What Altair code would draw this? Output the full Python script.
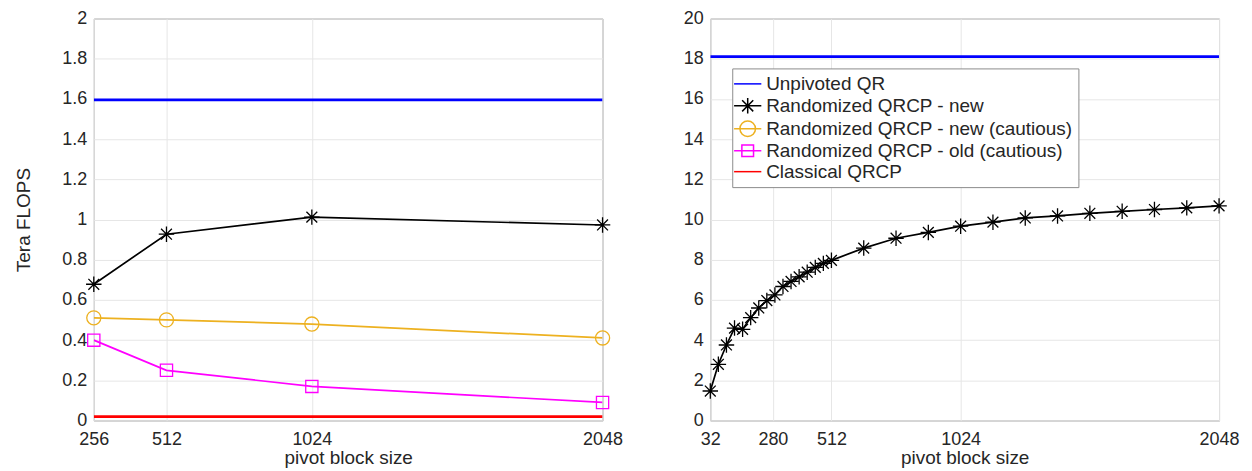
import altair as alt
import pandas as pd

# ---------------- data ----------------
series_names = [
    "Unpivoted QR",
    "Randomized QRCP - new",
    "Randomized QRCP - new (cautious)",
    "Randomized QRCP -  old (cautious)",
    "Classical QRCP",
]
series_colors = ["#0000ff", "#000000", "#EDB120", "#ff00ff", "#ff0000"]

# left panel
left_x = [256, 512, 1024, 2048]
left_unpivoted = [1.595, 1.595, 1.595, 1.595]
left_new = [0.678, 0.927, 1.012, 0.973]
left_new_cautious = [0.511, 0.501, 0.480, 0.411]
left_old_cautious = [0.400, 0.250, 0.170, 0.090]
left_classical = [0.020, 0.020, 0.020, 0.020]

# right panel
right_x = [32, 64, 96, 128, 160, 192, 224, 256, 288, 320, 352, 384, 416, 448,
           480, 512, 640, 768, 896, 1024, 1152, 1280, 1408, 1536, 1664, 1792,
           1920, 2048]
right_new = [1.47, 2.80, 3.76, 4.60, 4.54, 5.12, 5.60, 5.97, 6.25, 6.67, 6.92,
             7.15, 7.38, 7.62, 7.82, 7.97, 8.58, 9.07, 9.36, 9.67, 9.87, 10.08,
             10.18, 10.31, 10.41, 10.50, 10.58, 10.68]
right_unpivoted_x = [32, 2048]
right_unpivoted = [18.1, 18.1]

left_xticks = [256, 512, 1024, 2048]
right_xticks = [32, 280, 512, 1024, 2048]
left_yticks = [0, 0.2, 0.4, 0.6, 0.8, 1, 1.2, 1.4, 1.6, 1.8, 2]
right_yticks = [0, 2, 4, 6, 8, 10, 12, 14, 16, 18, 20]


def long(xs, ys, name):
    return pd.DataFrame({"x": xs, "y": ys, "series": [name] * len(xs)})


left_df = pd.concat([
    long(left_x, left_unpivoted, series_names[0]),
    long(left_x, left_new, series_names[1]),
    long(left_x, left_new_cautious, series_names[2]),
    long(left_x, left_old_cautious, series_names[3]),
    long(left_x, left_classical, series_names[4]),
], ignore_index=True)

right_df = pd.concat([
    long(right_unpivoted_x, right_unpivoted, series_names[0]),
    long(right_x, right_new, series_names[1]),
], ignore_index=True)

legend_df = pd.DataFrame({"series": series_names})

# ---------------- style ----------------
FONT = "Liberation Sans"
TXT = "#262626"
W, H = 510, 403

ASTERISK = "M-1,0H1M0,-1V1M-0.7,-0.7L0.7,0.7M-0.7,0.7L0.7,-0.7"
legend_shapes = [
    "M-1.4,0H1.4",
    "M-1.4,0H1.4M0,-0.8V0.8M-0.57,-0.57L0.57,0.57M-0.57,0.57L0.57,-0.57",
    "M-1.4,0H1.4M-0.8,0A0.8,0.8 0 1,1 0.8,0A0.8,0.8 0 1,1 -0.8,0Z",
    "M-1.4,0H1.4M-0.6,-0.6H0.6V0.6H-0.6Z",
    "M-1.4,0H1.4",
]


def xenc(domain, ticks):
    return alt.X("x:Q", scale=alt.Scale(domain=domain, nice=False, zero=False),
                 axis=alt.Axis(title="pivot block size", values=ticks, format="d",
                               grid=True, ticks=False, tickSize=0, domain=False,
                               labelFlush=False, labelPadding=10, titlePadding=0))


def yenc(domain, ticks, title):
    ax = dict(values=ticks, format="~g", grid=True, ticks=False, tickSize=0,
              domain=False, labelPadding=7)
    if title:
        ax["title"] = title
        ax["titlePadding"] = 28
    else:
        ax["title"] = None
    return alt.Y("y:Q", scale=alt.Scale(domain=domain, nice=False, zero=False),
                 axis=alt.Axis(**ax))


def panel(df, xdom, xt, ydom, yt, ytitle, specs, legend=False):
    X = xenc(xdom, xt)
    Y = yenc(ydom, yt, ytitle)
    layers = []
    for name, color, lw, marker in specs:
        base = alt.Chart(df).transform_filter(alt.datum.series == name)
        layers.append(base.mark_line(color=color, strokeWidth=lw, clip=True)
                      .encode(x=X, y=Y))
        if marker == "asterisk":
            layers.append(base.mark_point(shape=ASTERISK, size=240, filled=False,
                                          color=color, strokeWidth=1.3, opacity=1)
                          .encode(x=X, y=Y))
        elif marker == "circle":
            layers.append(base.mark_point(shape="circle", size=200, filled=False,
                                          color=color, strokeWidth=1.3, opacity=1)
                          .encode(x=X, y=Y))
        elif marker == "square":
            layers.append(base.mark_point(shape="square", size=150, filled=False,
                                          color=color, strokeWidth=1.3, opacity=1)
                          .encode(x=X, y=Y))
    if legend:
        lg = alt.Legend(orient="none", legendX=22, legendY=50, title=None,
                        labelFont=FONT, labelFontSize=19, labelColor=TXT,
                        labelLimit=0, padding=5, strokeColor="#8c8c8c",
                        fillColor="white", symbolSize=380, symbolStrokeWidth=1.5,
                        rowPadding=0, labelOffset=8)
        layers.append(
            alt.Chart(legend_df).transform_filter("false")
            .mark_point(filled=False, opacity=1)
            .encode(
                color=alt.Color("series:N", sort=series_names,
                                scale=alt.Scale(domain=series_names, range=series_colors),
                                legend=lg),
                shape=alt.Shape("series:N", sort=series_names,
                                scale=alt.Scale(domain=series_names, range=legend_shapes),
                                legend=lg),
            )
        )
    return alt.layer(*layers).properties(width=W, height=H)


left_specs = [
    (series_names[4], series_colors[4], 2.8, None),
    (series_names[3], series_colors[3], 1.7, "square"),
    (series_names[2], series_colors[2], 1.7, "circle"),
    (series_names[1], series_colors[1], 1.7, "asterisk"),
    (series_names[0], series_colors[0], 2.8, None),
]
right_specs = [
    (series_names[1], series_colors[1], 1.7, "asterisk"),
    (series_names[0], series_colors[0], 2.8, None),
]

left = panel(left_df, [256, 2048], left_xticks, [0, 2], left_yticks,
             "Tera FLOPS", left_specs)
right = panel(right_df, [32, 2048], right_xticks, [0, 20], right_yticks,
              None, right_specs, legend=True)

chart = (
    alt.hconcat(left, right, spacing=108, bounds="flush")
    .resolve_scale(color="independent", shape="independent")
    .resolve_legend(color="independent", shape="independent")
    .properties(padding={"left": 6, "top": 0, "right": 4, "bottom": 0},
                background="white")
    .configure_view(stroke="#8c8c8c", strokeWidth=1)
    .configure_axis(labelFont=FONT, labelFontSize=18, labelColor=TXT,
                    titleFont=FONT, titleFontSize=19, titleColor=TXT,
                    titleFontWeight="normal", gridColor="#e6e6e6", gridWidth=1)
)

chart.save("out.html", embed_options={"renderer": "svg", "actions": False})
